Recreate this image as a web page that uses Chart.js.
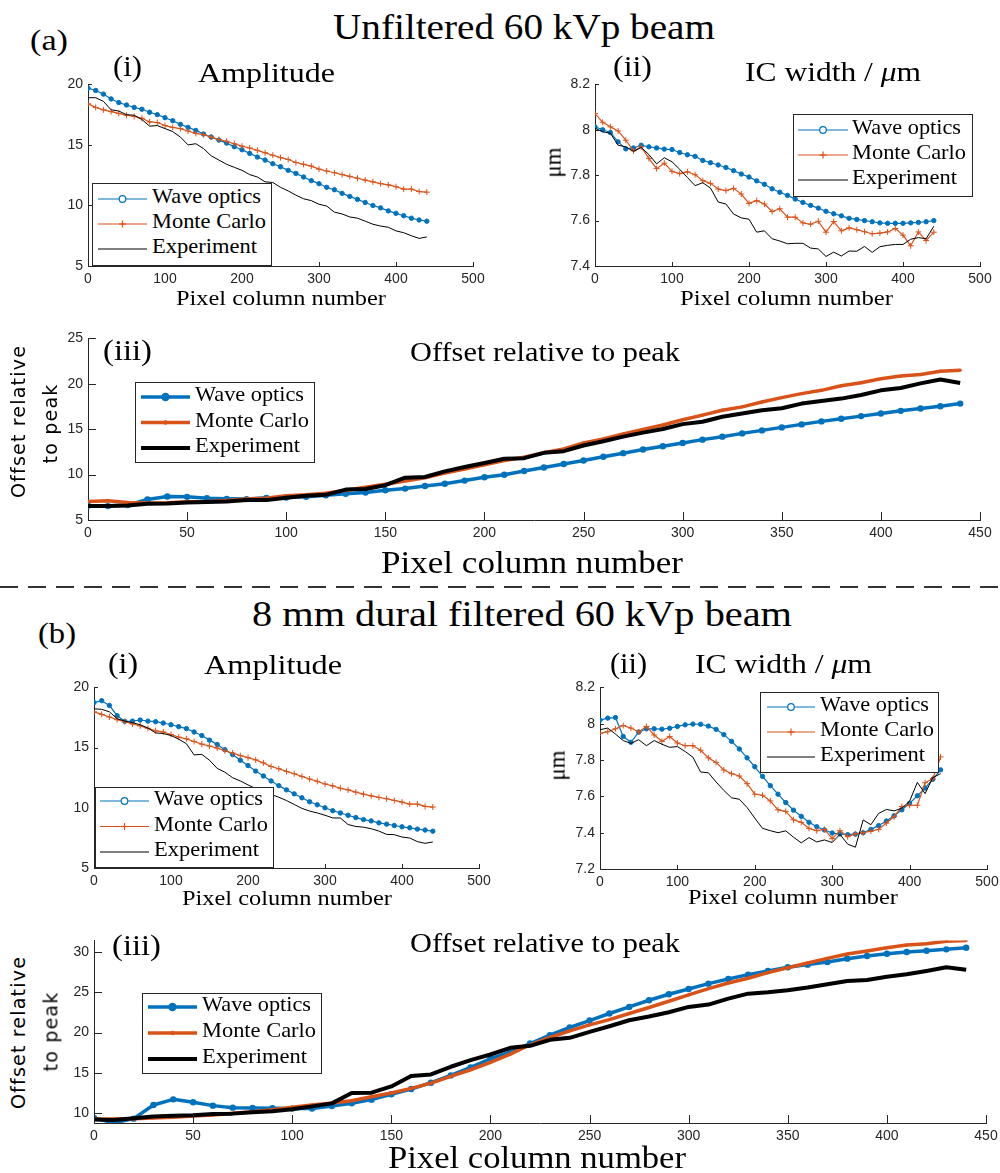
<!DOCTYPE html>
<html><head><meta charset="utf-8">
<script src="https://cdn.jsdelivr.net/npm/chart.js@4.4.1/dist/chart.umd.min.js"></script>
<style>
html,body{margin:0;padding:0;background:#fff;}
#root{position:relative;width:1000px;height:1173px;overflow:hidden;background:#fff;}
canvas{position:absolute;}
.t{position:absolute;white-space:nowrap;line-height:1;color:#000;}
.leg{position:absolute;background:#fff;border:1px solid #262626;box-sizing:border-box;}
svg{position:absolute;overflow:visible;}
</style></head><body><div id="root"></div>
<script>
// ---------------- DATA ----------------
const xCols = [0,10,20,30,40,50,60,70,80,90,100,110,120,130,140,150,160,170,180,190,200,210,220,230,240,250,260,270,280,290,300,310,320,330,340,350,360,370,380,390,400,410,420,430,440];
const seriesNames = ['Wave optics','Monte Carlo','Experiment'];

const xTicks500 = [0,100,200,300,400,500];
const xTicks450 = [0,50,100,150,200,250,300,350,400,450];
const ampTicks = [5,10,15,20];
const icTicksA = [7.4,7.6,7.8,8,8.2];
const icTicksB = [7.2,7.4,7.6,7.8,8,8.2];
const offTicksA = [5,10,15,20,25];
const offTicksB = [10,15,20,25,30];

// (a) unfiltered
const ampA_wave = [19.7,19.5,19.2,18.8,18.5,18.3,18.1,17.95,17.7,17.5,17.25,17.0,16.7,16.45,16.2,15.9,15.65,15.4,15.15,14.85,14.6,14.3,14.0,13.75,13.45,13.2,12.9,12.65,12.35,12.05,11.8,11.5,11.3,11.0,10.75,10.5,10.25,10.0,9.8,9.55,9.35,9.15,8.95,8.8,8.7];
const ampA_mc = [18.4,18.1,17.9,17.75,17.6,17.45,17.35,17.2,16.9,16.85,16.6,16.45,16.35,16.15,15.95,15.85,15.65,15.45,15.3,15.1,14.9,14.75,14.55,14.35,14.15,13.95,13.8,13.55,13.4,13.25,13.0,12.85,12.7,12.55,12.4,12.25,12.1,11.95,11.8,11.7,11.55,11.35,11.35,11.15,11.1];
const ampA_exp = [18.9,18.9,18.6,17.9,17.8,17.5,17.45,17.1,16.55,16.6,16.35,16.1,15.65,15.0,15.1,14.7,14.1,13.75,13.4,13.15,12.9,12.55,12.35,11.95,11.9,11.5,11.2,10.85,10.55,10.4,10.1,9.95,9.45,9.3,9.05,8.95,8.7,8.45,8.3,8.2,7.9,7.75,7.5,7.28,7.4];

const icA_wave = [8.013,8.0,7.988,7.947,7.916,7.92,7.932,7.925,7.92,7.915,7.913,7.9,7.89,7.883,7.865,7.855,7.845,7.834,7.82,7.805,7.792,7.775,7.76,7.74,7.725,7.711,7.695,7.68,7.667,7.655,7.641,7.63,7.621,7.61,7.605,7.6,7.595,7.59,7.588,7.588,7.588,7.59,7.592,7.595,7.6];
const icA_mc = [8.071,8.033,8.013,7.995,7.954,7.907,7.925,7.874,7.829,7.853,7.817,7.807,7.815,7.802,7.776,7.764,7.739,7.732,7.742,7.717,7.676,7.688,7.673,7.64,7.652,7.615,7.615,7.59,7.584,7.597,7.549,7.596,7.555,7.568,7.56,7.551,7.542,7.545,7.55,7.565,7.536,7.489,7.55,7.512,7.549];
const icA_exp = [8.007,7.991,7.985,7.932,7.925,7.905,7.922,7.891,7.85,7.877,7.859,7.826,7.79,7.754,7.767,7.743,7.682,7.673,7.629,7.612,7.606,7.549,7.555,7.52,7.51,7.498,7.5,7.5,7.479,7.475,7.442,7.461,7.444,7.466,7.465,7.486,7.46,7.485,7.491,7.495,7.495,7.518,7.525,7.52,7.575];

const offA_wave = [6.57,6.53,6.64,7.26,7.59,7.55,7.4,7.33,7.3,7.44,7.48,7.55,7.73,7.88,8.02,8.28,8.46,8.75,9.0,9.34,9.7,9.99,10.39,10.79,11.16,11.56,11.96,12.36,12.76,13.12,13.49,13.85,14.18,14.54,14.87,15.2,15.53,15.86,16.15,16.44,16.73,17.02,17.28,17.53,17.82];
const offA_mc = [7.04,7.11,6.93,6.86,6.9,7.0,7.04,7.15,7.3,7.4,7.66,7.77,7.95,8.28,8.6,8.93,9.3,9.66,10.17,10.61,11.08,11.56,11.92,12.4,12.83,13.49,13.93,14.47,14.98,15.46,16.04,16.55,17.09,17.46,18.0,18.48,18.92,19.28,19.79,20.12,20.56,20.85,21.03,21.39,21.5];
const offA_exp = [6.53,6.53,6.6,6.79,6.82,6.93,6.97,7.04,7.19,7.19,7.44,7.66,7.77,8.35,8.42,8.83,9.66,9.74,10.36,10.83,11.27,11.74,11.81,12.4,12.58,13.2,13.67,14.18,14.62,15.02,15.56,15.82,16.37,16.73,17.09,17.31,17.82,18.11,18.37,18.77,19.28,19.54,20.05,20.48,20.08];

// (b) 8 mm dural filtered
const ampB_wave = [18.74,18.9,18.5,17.65,17.18,17.2,17.29,17.2,17.15,17.04,16.9,16.74,16.58,16.3,16.0,15.62,15.26,14.83,14.42,13.95,13.51,13.05,12.64,12.23,11.84,11.49,11.16,10.83,10.5,10.25,10.0,9.76,9.57,9.38,9.19,9.02,8.91,8.75,8.64,8.53,8.42,8.34,8.23,8.15,8.06];
const ampB_mc = [17.97,17.76,17.54,17.32,17.15,16.96,16.8,16.6,16.39,16.3,16.09,15.87,15.73,15.51,15.29,15.13,14.96,14.74,14.55,14.33,14.17,13.98,13.73,13.43,13.24,13.02,12.83,12.61,12.39,12.2,11.98,11.82,11.62,11.49,11.3,11.13,10.99,10.86,10.75,10.61,10.47,10.31,10.31,10.12,10.06];
const ampB_exp = [18.22,18.18,17.97,17.4,17.2,17.07,16.9,16.63,16.22,16.17,16.0,15.7,15.32,14.39,14.44,13.95,13.27,12.96,12.5,12.23,11.9,11.6,11.35,11.1,10.88,10.6,10.28,9.95,9.73,9.57,9.38,9.16,9.15,8.61,8.45,8.39,8.26,8.07,7.79,7.77,7.57,7.49,7.19,7.05,7.16];

const icB_wave = [8.02,8.031,8.034,7.93,7.898,7.954,7.972,7.972,7.97,7.975,7.985,7.994,7.998,7.997,7.987,7.969,7.94,7.903,7.861,7.812,7.763,7.71,7.659,7.612,7.566,7.524,7.49,7.457,7.433,7.415,7.398,7.393,7.389,7.392,7.4,7.418,7.439,7.464,7.493,7.526,7.562,7.603,7.646,7.694,7.746];
const icB_mc = [7.947,7.956,7.972,7.99,7.976,7.954,7.985,7.938,7.903,7.93,7.894,7.879,7.879,7.854,7.812,7.787,7.745,7.725,7.712,7.67,7.612,7.606,7.575,7.526,7.517,7.471,7.457,7.424,7.411,7.418,7.367,7.411,7.378,7.393,7.4,7.408,7.418,7.453,7.488,7.544,7.551,7.551,7.675,7.697,7.817];
const icB_exp = [7.967,7.976,7.943,7.907,7.892,7.912,7.879,7.907,7.887,7.87,7.874,7.847,7.816,7.734,7.73,7.679,7.633,7.592,7.584,7.539,7.48,7.424,7.411,7.4,7.41,7.375,7.344,7.373,7.349,7.36,7.346,7.391,7.337,7.32,7.47,7.444,7.506,7.528,7.52,7.535,7.573,7.677,7.615,7.703,7.725];

const offB_wave = [9.42,8.81,9.34,11.03,11.73,11.36,10.95,10.7,10.66,10.62,10.58,10.58,10.9,11.23,11.69,12.35,13.0,13.79,14.69,15.68,16.75,17.61,18.64,19.67,20.62,21.48,22.35,23.17,23.99,24.73,25.39,26.05,26.63,27.16,27.61,28.07,28.4,28.72,29.14,29.47,29.75,29.96,30.12,30.29,30.49];
const offB_mc = [9.26,9.3,9.34,9.42,9.51,9.67,9.79,10.0,10.2,10.45,10.74,11.03,11.28,11.56,12.06,12.51,13.09,13.74,14.57,15.39,16.3,17.33,18.48,19.38,20.21,20.95,21.6,22.35,23.09,23.87,24.65,25.43,26.13,26.71,27.41,28.02,28.6,29.18,29.71,30.08,30.49,30.82,30.99,31.28,31.4];
const offB_exp = [9.22,9.18,9.38,9.59,9.71,9.75,9.92,9.96,10.12,10.25,10.49,10.86,11.23,12.51,12.55,13.33,14.61,14.81,15.76,16.58,17.28,18.11,18.35,19.09,19.34,20.08,20.78,21.52,21.98,22.51,23.17,23.46,24.2,24.81,24.98,25.23,25.56,25.97,26.38,26.5,26.91,27.2,27.61,28.07,27.78];

// ---------------- STYLE / LAYOUT ----------------
const BLUE='#0072BD', ORANGE='#D95319', BLACK='#000000', AX='#262626';
const SERIF="'Liberation Serif','Times New Roman',serif";
const root = document.getElementById('root');

const inwardTicks = {
  id:'inwardTicks',
  afterDraw(chart, args, opts){
    const ctx = chart.ctx, ca = chart.chartArea, xs = chart.scales.x, ys = chart.scales.y, L = opts.len || 4;
    ctx.save(); ctx.strokeStyle = AX; ctx.lineWidth = 1; ctx.beginPath();
    xs.ticks.forEach(t=>{ const px = Math.round(xs.getPixelForValue(t.value))+0.5; ctx.moveTo(px, ca.bottom); ctx.lineTo(px, ca.bottom-L); });
    ys.ticks.forEach(t=>{ const py = Math.round(ys.getPixelForValue(t.value))+0.5; ctx.moveTo(ca.left, py); ctx.lineTo(ca.left+L, py); });
    ctx.stroke(); ctx.restore();
  }
};
Chart.register(inwardTicks);

function pts(ys){ return xCols.map((x,i)=>({x:x, y:ys[i]})); }

function makeChart(p){
  const [L,T,R,B] = p.box;
  const YW=60, XH=30, PT=12, PR=24;
  const W=(R-L)+YW+PR, H=(B-T)+PT+XH;
  const cv=document.createElement('canvas');
  cv.width=W; cv.height=H;
  cv.style.left=(L-YW)+'px'; cv.style.top=(T-PT)+'px';
  cv.style.width=W+'px'; cv.style.height=H+'px';
  root.appendChild(cv);
  const th=p.thick;
  const ds=[
    {label:seriesNames[0], data:pts(p.s[0]), borderColor:BLUE, backgroundColor:BLUE, borderWidth:th?3.5:1.2,
     pointStyle:'circle', pointRadius:th?3.2:2.2, pointBorderWidth:th?0:1, pointBackgroundColor:BLUE, pointBorderColor:BLUE, order:3},
    {label:seriesNames[1], data:pts(p.s[1]), borderColor:ORANGE, backgroundColor:ORANGE, borderWidth:th?3.5:1.2,
     pointStyle:th?'circle':'cross', pointRadius:th?1.6:3, pointBorderWidth:th?0:1, pointBackgroundColor:ORANGE, pointBorderColor:ORANGE, order:2},
    {label:seriesNames[2], data:pts(p.s[2]), borderColor:BLACK, backgroundColor:BLACK, borderWidth:th?4:1,
     pointRadius:0, order:1}
  ];
  const tickFont={family:"'Liberation Sans',Arial,sans-serif", size:14};
  new Chart(cv,{
    type:'line',
    data:{datasets:ds},
    options:{
      responsive:false, animation:false, devicePixelRatio:1, events:[],
      layout:{padding:{left:0,top:PT,right:PR,bottom:0}},
      plugins:{legend:{display:false}, tooltip:{enabled:false}, inwardTicks:{len:p.tickLen}},
      elements:{line:{tension:0, borderJoinStyle:'round', fill:false}},
      scales:{
        x:{type:'linear', min:0, max:p.xMax,
           afterBuildTicks:s=>{ s.ticks=p.xTicks.map(v=>({value:v})); },
           afterFit:s=>{ s.height=XH; },
           grid:{display:true, drawOnChartArea:false, drawTicks:false},
           border:{display:true, color:AX, width:1},
           ticks:{font:tickFont, color:AX, padding:5, maxRotation:0, autoSkip:false, callback:v=>String(v)}},
        y:{type:'linear', min:p.yMin, max:p.yMax,
           afterBuildTicks:s=>{ s.ticks=p.yTicks.map(v=>({value:v})); },
           afterFit:s=>{ s.width=YW; },
           grid:{display:true, drawOnChartArea:false, drawTicks:false},
           border:{display:true, color:AX, width:1},
           ticks:{font:tickFont, color:AX, padding:5, autoSkip:false, callback:v=>String(v)}}
      }
    }
  });
}

const panels = [
  {box:[88,83,473,266],  xMax:500, xTicks:xTicks500, yMin:5,   yMax:20,  yTicks:ampTicks,  s:[ampA_wave,ampA_mc,ampA_exp], thick:false, tickLen:4},
  {box:[595,83,980,266], xMax:500, xTicks:xTicks500, yMin:7.4, yMax:8.2, yTicks:icTicksA,  s:[icA_wave,icA_mc,icA_exp],   thick:false, tickLen:4},
  {box:[88,337,980,520], xMax:450, xTicks:xTicks450, yMin:5,   yMax:25,  yTicks:offTicksA, s:[offA_wave,offA_mc,offA_exp], thick:true, tickLen:8},
  {box:[94,686,479,868], xMax:500, xTicks:xTicks500, yMin:5,   yMax:20,  yTicks:ampTicks,  s:[ampB_wave,ampB_mc,ampB_exp], thick:false, tickLen:4},
  {box:[600,686,987,869],xMax:500, xTicks:xTicks500, yMin:7.2, yMax:8.2, yTicks:icTicksB,  s:[icB_wave,icB_mc,icB_exp],   thick:false, tickLen:4},
  {box:[94,939,986,1123],xMax:450, xTicks:xTicks450, yMin:8.8, yMax:31.4,yTicks:offTicksB, s:[offB_wave,offB_mc,offB_exp], thick:true, tickLen:8}
];
panels.forEach(makeChart);

// ---------------- TEXT ----------------
function addText(o){
  const el=document.createElement('div');
  el.className='t';
  el.style.fontFamily=o.family||SERIF;
  el.style.fontSize=o.size+'px';
  if(o.ls) el.style.letterSpacing=o.ls+'px';
  if(o.html) el.innerHTML=o.html; else el.textContent=o.text;
  root.appendChild(el);
  const w=el.getBoundingClientRect().width;
  const sx = o.width ? o.width/w : 1;
  const vis = w*sx;
  if(o.rotate){
    el.style.left=(o.cx-w/2)+'px';
    el.style.top=(o.cy-o.size/2)+'px';
    el.style.transformOrigin=(w/2)+'px '+(o.size/2)+'px';
    el.style.transform='rotate(-90deg) scaleX('+sx+')';
  } else {
    const left = (o.left!==undefined)? o.left : o.cx-vis/2;
    el.style.left=left+'px';
    el.style.top=(o.base-0.8375*o.size)+'px';
    el.style.transformOrigin='0 0';
    el.style.transform='scaleX('+sx+')';
  }
  return el;
}

const MU='IC width / <span style="font-style:italic">μ</span>m';
const texts=[
  {text:'(a)', cx:49, base:50, size:30, width:38},
  {text:'Unfiltered 60 kVp beam', cx:524, base:39, size:36, width:382},
  {text:'(i)', cx:127.5, base:76, size:30, width:29},
  {text:'Amplitude', cx:266.5, base:82, size:28, width:137},
  {text:'(ii)', cx:632, base:76, size:30, width:39},
  {html:MU, text:'IC width / μm', cx:833, base:81, size:28, width:176},
  {text:'Pixel column number', cx:281, base:305, size:22, width:210},
  {text:'Pixel column number', cx:786.5, base:305, size:22, width:213},
  {text:'(iii)', cx:127.5, base:360, size:30, width:49},
  {text:'Offset relative to peak', cx:545, base:361, size:28, width:270},
  {text:'Pixel column number', cx:532, base:573, size:32, width:302},
  {text:'(b)', cx:57, base:643, size:30, width:38},
  {text:'8 mm dural filtered 60 kVp beam', cx:522, base:626, size:36, width:540},
  {text:'(i)', cx:123, base:673, size:30, width:30},
  {text:'Amplitude', cx:273, base:674, size:28, width:138},
  {text:'(ii)', cx:628, base:673, size:30, width:37},
  {html:MU, text:'IC width / μm', cx:783, base:673, size:28, width:177},
  {text:'Pixel column number', cx:287, base:905, size:22, width:210},
  {text:'Pixel column number', cx:793, base:904, size:22, width:210},
  {text:'(iii)', cx:136.5, base:955, size:30, width:49},
  {text:'Offset relative to peak', cx:545, base:952, size:28, width:270},
  {text:'Pixel column number', cx:537, base:1168, size:32, width:298},
  {text:'μm', cx:553, cy:162, size:23, rotate:true},
  {text:'μm', cx:557, cy:765, size:23, rotate:true},
  {text:'Offset relative', cx:19, cy:421, size:19, ls:1.2, rotate:true, family:"'DejaVu Sans',sans-serif"},
  {text:'to peak', cx:51, cy:423, size:19, ls:1.2, rotate:true, family:"'DejaVu Sans',sans-serif"},
  {text:'Offset relative', cx:19, cy:1032, size:19, ls:1.2, rotate:true, family:"'DejaVu Sans',sans-serif"},
  {text:'to peak', cx:51, cy:1031, size:19, ls:1.2, rotate:true, family:"'DejaVu Sans',sans-serif"}
];
texts.forEach(addText);

// ---------------- LEGENDS ----------------
const NS='http://www.w3.org/2000/svg';
function svgEl(tag, attrs){ const e=document.createElementNS(NS,tag); for(const k in attrs) e.setAttribute(k,attrs[k]); return e; }
function addLegend(g){
  const [l,t,r,b]=g.box;
  const box=document.createElement('div'); box.className='leg';
  box.style.left=l+'px'; box.style.top=t+'px'; box.style.width=(r-l)+'px'; box.style.height=(b-t)+'px';
  root.appendChild(box);
  const svg=svgEl('svg',{width:1000,height:1173}); svg.style.left='0px'; svg.style.top='0px';
  root.appendChild(svg);
  const cols=[BLUE,ORANGE,BLACK];
  g.rows.forEach((y,i)=>{
    const [x1,x2]=g.sample, xm=(x1+x2)/2;
    const lw = g.thick ? (i==2?4:3.5) : (i==2?1:1.2);
    svg.appendChild(svgEl('line',{x1:x1,y1:y,x2:x2,y2:y,stroke:cols[i],'stroke-width':lw}));
    if(g.thick){
      if(i==0) svg.appendChild(svgEl('circle',{cx:xm,cy:y,r:4.2,fill:BLUE}));
      if(i==1) svg.appendChild(svgEl('circle',{cx:xm,cy:y,r:2.2,fill:ORANGE}));
    } else {
      if(i==0) svg.appendChild(svgEl('circle',{cx:xm,cy:y,r:3.3,fill:'#fff',stroke:BLUE,'stroke-width':1.2}));
      if(i==1){ svg.appendChild(svgEl('line',{x1:xm-3.5,y1:y,x2:xm+3.5,y2:y,stroke:ORANGE,'stroke-width':1.2}));
                svg.appendChild(svgEl('line',{x1:xm,y1:y-3.5,x2:xm,y2:y+3.5,stroke:ORANGE,'stroke-width':1.2})); }
    }
    addText({text:seriesNames[i], left:g.textX, base:y+5, size:21, width:g.tw[i], family:SERIF});
  });
}
const legTW=[109,114,105];
const legends=[
  {box:[92,183,272,266],  rows:[199,224,249],   sample:[98,147],  textX:152, thick:false, tw:legTW},
  {box:[793,114,973,197], rows:[130,155,180],   sample:[798,848], textX:852, thick:false, tw:legTW},
  {box:[135,382,315,463], rows:[397,422.5,448], sample:[141,190], textX:195, thick:true,  tw:legTW},
  {box:[95,787,274,868],  rows:[801,826.5,852], sample:[100,149], textX:154, thick:false, tw:legTW},
  {box:[760,692,939,773], rows:[707,732,757],   sample:[767,815], textX:820, thick:false, tw:legTW},
  {box:[142,993,322,1074],rows:[1007,1033,1059],sample:[148,197], textX:202, thick:true,  tw:legTW}
];
legends.forEach(addLegend);

// ---------------- SEPARATOR ----------------
const sep=svgEl('svg',{width:1000,height:10}); sep.style.left='0px'; sep.style.top='582px';
sep.appendChild(svgEl('line',{x1:0,y1:5,x2:1000,y2:5,stroke:'#333','stroke-width':2,'stroke-dasharray':'18 10'}));
root.appendChild(sep);
</script>
</body></html>
